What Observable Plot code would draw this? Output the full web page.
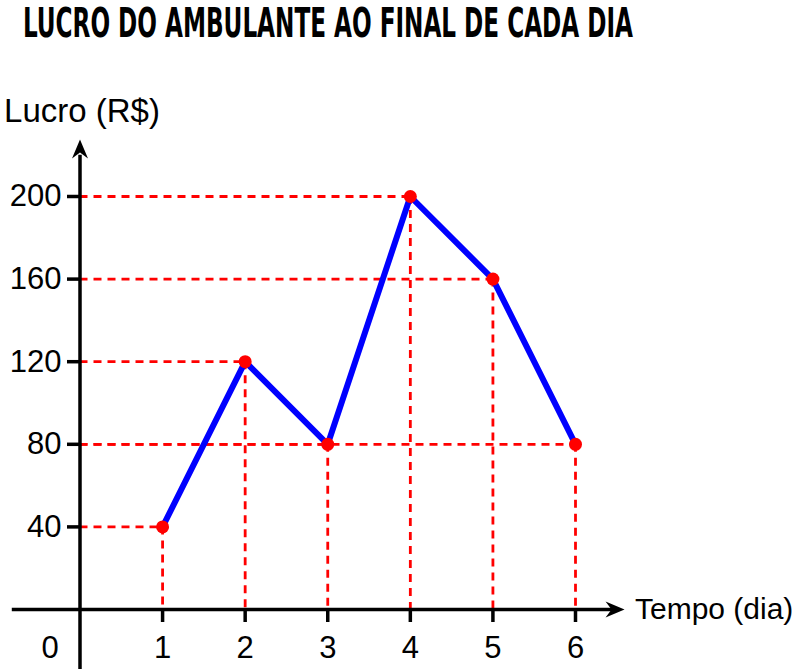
<!DOCTYPE html>
<html>
<head>
<meta charset="utf-8">
<script src="https://cdn.jsdelivr.net/npm/d3@7"></script>
<script src="https://cdn.jsdelivr.net/npm/@observablehq/plot@0.6"></script>
<style>
  html, body { margin: 0; padding: 0; background: #fff; }
  svg { display: block; }
</style>
</head>
<body>
<div id="chart"></div>
<script>
const dias = [1, 2, 3, 4, 5, 6];
const lucros = [40, 120, 80, 200, 160, 80];
const yTicks = [40, 80, 120, 160, 200];
const xTicks = [1, 2, 3, 4, 5, 6];
const titulo = "LUCRO DO AMBULANTE AO FINAL DE CADA DIA";
const yLabel = "Lucro (R$)";
const xLabel = "Tempo (dia)";

const data = dias.map((d, i) => ({dia: d, lucro: lucros[i]}));

const arrowRight = {
  draw(ctx) {
    ctx.moveTo(0, 0); ctx.lineTo(-19, -8); ctx.lineTo(-13, 0); ctx.lineTo(-19, 8); ctx.closePath();
  }
};
const arrowUp = {
  draw(ctx) {
    ctx.moveTo(0, 0); ctx.lineTo(-8, 19); ctx.lineTo(0, 13); ctx.lineTo(8, 19); ctx.closePath();
  }
};

const font = "'Liberation Sans', Arial, sans-serif";

const chart = Plot.plot({
  width: 810,
  height: 671,
  marginLeft: 79.5,
  marginRight: 235,
  marginTop: 196,
  marginBottom: 62,
  style: {fontFamily: font, background: "#fff"},
  x: {domain: [0, 6]},
  y: {domain: [0, 200]},
  marks: [
    // dashed guides
    Plot.ruleY(data, {y: "lucro", x1: 0, x2: "dia", stroke: "#ff0000", strokeWidth: 2.8, strokeDasharray: "8,6"}),
    Plot.ruleX(data, {x: "dia", y1: "lucro", y2: 0, stroke: "#ff0000", strokeWidth: 2.8, strokeDasharray: "8,6"}),
    // axes lines
    Plot.ruleY([0], {x1: -0.82, x2: 6.5, stroke: "#000", strokeWidth: 3.5}),
    Plot.ruleX([0], {y1: -29, y2: 220, stroke: "#000", strokeWidth: 3.5}),
    Plot.dot([{x: 6.594, y: 0}], {x: "x", y: "y", symbol: arrowRight, fill: "#000", stroke: null, r: 1}),
    Plot.dot([{x: 0, y: 227.6}], {x: "x", y: "y", symbol: arrowUp, fill: "#000", stroke: null, r: 1}),
    // ticks & labels
    Plot.axisY({ticks: yTicks, tickSize: 12.5, tickPadding: 6, fontSize: 31, strokeWidth: 3.5, tickFormat: "d", label: null}),
    Plot.axisX({ticks: xTicks, tickSize: 13, tickPadding: 13, fontSize: 31, strokeWidth: 3.5, tickFormat: "d", label: null}),
    Plot.axisX({ticks: [0], tickSize: 0, tickPadding: 26, dx: -30, fontSize: 31, tickFormat: "d", label: null}),
    // series
    Plot.line(data, {x: "dia", y: "lucro", stroke: "#0000ff", strokeWidth: 6, strokeLinejoin: "miter"}),
    Plot.dot(data, {x: "dia", y: "lucro", r: 6.5, fill: "#ff0000", stroke: null}),
    // axis titles
    Plot.text([yLabel], {x: 0, y: 241, text: d => d, textAnchor: "middle", dx: 2, fontSize: 33, fill: "#000"}),
    Plot.text([xLabel], {x: 6.72, y: 0, text: d => d, textAnchor: "start", fontSize: 30, fill: "#000"})
  ]
});

document.getElementById("chart").appendChild(chart);

const t = d3.select(chart).append("text")
  .attr("text-anchor", "start")
  .attr("font-family", "'DejaVu Sans Condensed', 'Liberation Sans Narrow', sans-serif")
  .attr("font-weight", "bold")
  .attr("font-size", 41)
  .attr("fill", "#000")
  .text(titulo);
const natural = t.node().getComputedTextLength() || 1000;
const sx = 610 / natural;
t.attr("transform", `translate(23,37) scale(${sx},1)`);
</script>
</body>
</html>
